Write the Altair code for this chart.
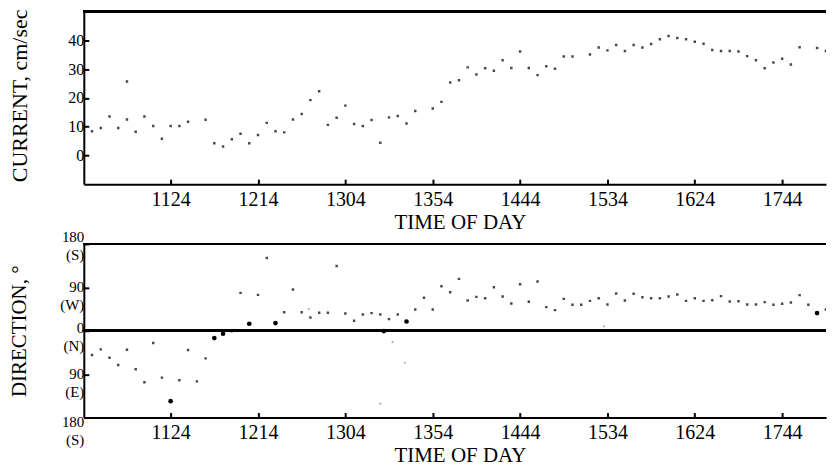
import altair as alt
import pandas as pd

# ---- axis ticks (printed labels; ticks every 50 minutes starting 11:24) ----
T0 = 11 * 60 + 24
tick_step = 50
tick_labels = ["1124", "1214", "1304", "1354", "1444", "1534", "1624", "1744"]
x_domain = [634.3, 1059.1]

# ---- upper panel: current speed (minutes after 11:24, cm/sec) ----
cur_t = [-45, -40, -35, -30, -25, -25, -20, -15, -10, -5, 0, 5, 10,
         20, 25, 30, 35, 40, 45, 50, 55, 60, 65, 70, 75, 80, 85, 90, 95, 100,
         105, 110, 115, 120, 125, 130, 135, 140,
         150, 155, 160, 165, 170, 175, 180, 185, 190, 195, 200, 205, 210, 215,
         220, 225, 230,
         240, 245, 250, 255, 260, 265, 270, 275, 280, 285, 290, 295, 300, 305,
         310, 315, 320, 325, 330, 335, 340, 345, 350, 355, 360,
         370, 375, 380]
cur_v = [8.4, 9.5, 13.5, 9.5, 12.5, 25.7, 8.2, 13.5, 10.2, 5.8, 10.2, 10.2, 11.7,
         12.4, 4.2, 3.1, 5.6, 7.5, 4.2, 7.1, 11.3, 8.4, 8.0, 12.5, 14.4, 19.2, 22.3,
         10.6, 13.1, 17.3, 10.9, 10.2, 12.3, 4.4, 13.2, 13.7, 11.1, 15.4,
         16.3, 18.6, 25.3, 26.1, 30.6, 28.1, 30.3, 29.4, 33.1, 30.4, 36.1, 30.4,
         27.9, 31.0, 30.1, 34.4, 34.4,
         35.1, 37.5, 36.5, 38.4, 36.3, 38.4, 37.5, 38.7, 40.4, 41.5, 40.8, 40.4,
         39.5, 38.8, 36.6, 36.3, 36.3, 36.1, 34.5, 33.1, 30.3, 32.3, 33.6, 31.6,
         37.6, 37.3, 36.3, 34.2]

# ---- lower panel: direction (degrees, + toward W, - toward E) ----
dir_t = [-45, -40, -35, -30, -25, -20, -15, -10, -5, 0, 5, 10, 15, 20, 25, 30, 35,
         40, 45, 50, 55, 60, 65, 70, 75, 79, 80, 85, 90, 95, 100, 105, 110, 115,
         120, 120, 122, 125, 127, 130, 134, 135, 140, 145, 150, 155, 160, 165,
         170, 175, 180, 185, 190, 195, 200, 205, 210, 215, 220, 225, 230, 235,
         240, 245, 248, 250, 255, 260, 265, 270, 275, 280, 285, 290, 295, 300,
         305, 310, 315, 320, 325, 330, 335, 340, 345, 350, 355, 360, 365, 370, 375]
dir_v = [-50.4, -38.6, -55.9, -71.1, -39.3, -80, -106.9, -25.5, -97.2, -146,
         -102.8, -40, -104.9, -57.2, -15.2, -6.2, -2.8,
         78.6, 14.5, 74.5, 151, 15.9, 38.6, 85.5, 38.6, 44.9, 27.6, 37.2, 37.2,
         134.5, 35.9, 20.7, 33.8, 36.6,
         33.8, -151, -0.7, 24.1, -23.4, 33.8, -66, 19.2, 44.1, 68.3, 44.1, 92.5,
         80, 107.6, 62.7, 70.3, 67.6, 90.4, 71, 56.5, 96.6, 60, 102, 49, 42.8,
         66.2, 53.8, 53.8, 62, 67.6, 8.9, 54.5, 77.2, 62.7, 76.6, 69.7, 67.6,
         67.6, 71, 75.1, 62, 67.6, 62, 63.5, 71.8, 60.6, 61.4, 54.4, 54.4, 59.4,
         53.8, 55.9, 58.6, 73.9, 53.8, 36.6, 44.1]
dir_kind = ["n", "n", "n", "n", "n", "n", "n", "n", "n", "b", "n", "n", "n", "n",
            "b", "b", "f",
            "n", "b", "n", "n", "b", "n", "n", "n", "f", "n", "n", "n", "n", "n",
            "n", "n", "n",
            "n", "f", "b", "n", "f", "n", "f", "b", "n", "n", "n", "n", "n", "n",
            "n", "n", "n", "n", "n", "n", "n", "n", "n", "n", "n", "n", "n", "n",
            "n", "n", "f", "n", "n", "n", "n", "n", "n", "n", "n", "n", "n", "n",
            "n", "n", "n", "n", "n", "n", "n", "n", "n", "n", "n", "n", "n", "b", "n"]

cur_df = pd.DataFrame({"t": [T0 + v for v in cur_t], "v": cur_v})
dir_df = pd.DataFrame({"t": [T0 + v for v in dir_t], "v": dir_v, "k": dir_kind})

FONT = "Liberation Serif"
tick_vals = [T0 + i * tick_step for i in range(len(tick_labels))]
label_expr = ("[" + ",".join(f"'{s}'" for s in tick_labels) + "]"
              + f"[round((datum.value - {T0}) / {tick_step})]")

def x_axis():
    return alt.Axis(values=tick_vals, labelExpr=label_expr, title="TIME OF DAY",
                    grid=False, tickSize=alt.expr("-5"), tickWidth=2, tickColor="black",
                    domainColor="black", domainWidth=2, labelFont=FONT,
                    labelFontSize=20, labelColor="black", labelPadding=10,
                    titleFont=FONT, titleFontSize=21, titleFontWeight="normal",
                    titleColor="black", titlePadding=2, titleX=377)

xs = alt.X("t:Q", scale=alt.Scale(domain=x_domain, nice=False, zero=False), axis=x_axis())

H_TOP, H_BOT, W = 173, 174, 744

top_axis = alt.Axis(values=[0, 10, 20, 30, 40], grid=False, title="CURRENT, cm/sec",
                    tickSize=alt.expr("-5"), tickWidth=2, tickColor="black",
                    domainColor="black", domainWidth=2, labelFont=FONT,
                    labelFontSize=16, labelColor="black", labelPadding=5,
                    titleFont=FONT, titleFontSize=22, titleFontWeight="normal",
                    titleColor="black", titleX=-64, titleY=84,
                    titleBaseline="middle")

top_pts = alt.Chart(cur_df).mark_square(size=6, color="#333", opacity=0.9, clip=True).encode(
    x=xs, y=alt.Y("v:Q", scale=alt.Scale(domain=[-10, 50], nice=False, zero=False), axis=top_axis))
top_rule = alt.Chart(cur_df).mark_rule(color="black", strokeWidth=2).encode(y=alt.datum(50))
top = alt.layer(top_pts, top_rule).properties(width=W, height=H_TOP)

dir_label = ("datum.value == 0 ? ['0','(N)'] : datum.value == 90 ? ['90','(W)'] : "
             "datum.value == -90 ? ['90','(E)'] : ['180','(S)']")
bot_axis = alt.Axis(values=[-180, -90, 0, 90, 180], labelExpr=dir_label, grid=False,
                    title="DIRECTION, °", tickSize=alt.expr("-5"), tickWidth=2,
                    tickColor="black", domainColor="black", domainWidth=2,
                    labelFont=FONT, labelFontSize=15, labelColor="black",
                    labelPadding=5, labelBaseline="middle", labelLineHeight=18,
                    labelOffset={"condition": [{"test": "datum.value == 180", "value": -7},
                                               {"test": "datum.value == -180", "value": 4},
                                               {"test": "datum.value == 0", "value": -3}],
                                 "value": -1},
                    titleFont=FONT, titleFontSize=21, titleFontWeight="normal",
                    titleColor="black", titleX=-64, titleBaseline="middle")

ys = alt.Y("v:Q", scale=alt.Scale(domain=[-180, 180], nice=False, zero=False), axis=bot_axis)
bot_n = alt.Chart(dir_df).transform_filter("datum.k == 'n'").mark_square(
    size=6, color="#333", opacity=0.9, clip=True).encode(x=xs, y=ys)
bot_f = alt.Chart(dir_df).transform_filter("datum.k == 'f'").mark_square(
    size=3, color="#777", clip=True).encode(x=xs, y=ys)
bot_b = alt.Chart(dir_df).transform_filter("datum.k == 'b'").mark_circle(
    size=22, color="black", opacity=1, clip=True).encode(x=xs, y=ys)
bot_top = alt.Chart(dir_df).mark_rule(color="black", strokeWidth=2).encode(y=alt.datum(180))
bot_zero = alt.Chart(dir_df).mark_rule(color="black", strokeWidth=2).encode(y=alt.datum(0))
bot = alt.layer(bot_n, bot_f, bot_b, bot_top, bot_zero).properties(width=W, height=H_BOT)

chart = alt.vconcat(top, bot, spacing=60, bounds="flush").properties(
    padding={"left": 0, "top": 0, "right": 0, "bottom": 0},
    background="white",
).configure_view(stroke=None)

chart.save("out.html", embed_options={"renderer": "svg", "actions": False})
